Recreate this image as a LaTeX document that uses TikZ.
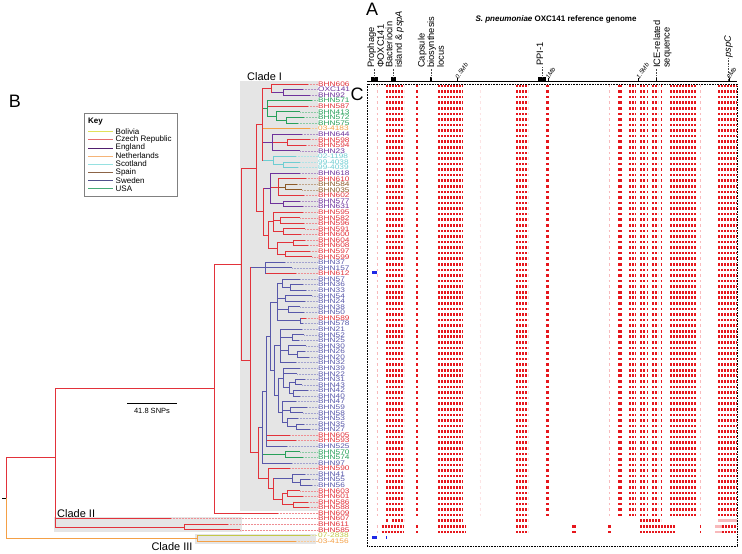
\documentclass[tikz,border=0pt]{standalone}
\usepackage{fontspec}
\setmainfont{Liberation Sans}
\usepackage{graphicx}
\definecolor{cR}{RGB}{226,50,58}
\definecolor{cE}{RGB}{110,50,155}
\definecolor{cS}{RGB}{88,88,170}
\definecolor{cU}{RGB}{40,160,90}
\definecolor{cN}{RGB}{244,160,70}
\definecolor{cSc}{RGB}{110,205,210}
\definecolor{cSp}{RGB}{140,90,40}
\definecolor{cB}{RGB}{195,200,70}
\definecolor{kB}{RGB}{225,225,90}
\definecolor{kC}{RGB}{232,110,110}
\definecolor{kE}{RGB}{80,30,110}
\definecolor{kN}{RGB}{245,180,120}
\definecolor{kSc}{RGB}{150,225,225}
\definecolor{kSp}{RGB}{140,100,70}
\definecolor{kS}{RGB}{80,80,140}
\definecolor{kU}{RGB}{70,170,120}
\definecolor{hmred}{RGB}{230,22,28}
\definecolor{hmblue}{RGB}{30,40,230}
\definecolor{boxgray}{RGB}{229,229,229}
\newcommand\VB[4]{\draw[br,#4] (#1,#2) -- (#1,#3);}
\newcommand\HB[4]{\draw[br,#4] (#1,#3) -- (#2,#3);}
\tikzset{
  br/.style={line width=0.9pt, line cap=rect},
  lead/.style={line width=0.5pt, dash pattern=on 0.5pt off 1pt},
  lab/.style={anchor=west, inner sep=0pt, font=\fontsize{8.3}{8}\selectfont},
  hm/.style={line width=2.6pt, draw=hmred, dash pattern=on 2.3pt off 0.7pt},
  hmsolid/.style={line width=2.6pt, draw=hmred},
  hmfaint/.style={line width=2.6pt, draw=hmred!30},
  hmvfaint/.style={line width=2.6pt, draw=hmred!12},
  gl/.style={rotate=90, anchor=west, align=left, inner sep=0pt, font=\fontsize{9.3}{9.6}\selectfont},
  tl/.style={rotate=55, anchor=south west, inner sep=0pt, font=\fontsize{6.2}{6.5}\selectfont\itshape},
  blk/.style={fill=black, inner sep=0pt, minimum height=4pt},
  gdot/.style={line width=0.5pt, dash pattern=on 0.6pt off 1pt, draw=black!70},
  clab/.style={inner sep=0pt, font=\fontsize{11}{12}\selectfont},
  plab/.style={inner sep=0pt, font=\fontsize{18}{18}\selectfont},
  keytxt/.style={anchor=west, inner sep=0pt, font=\fontsize{8}{8}\selectfont}
}
\begin{document}
\begin{tikzpicture}[x=1pt,y=-1pt]
\useasboundingbox (0,0) rectangle (742,554);
\fill[white] (0,0) rectangle (742,554);
% grey clade boxes
\fill[boxgray] (240,81) rectangle (318,511);
\fill[boxgray] (54,517) rectangle (242,532);
\fill[boxgray] (195,534) rectangle (316,544);
\node[clab, anchor=base west] (c1) at (247,80) {Clade I};
\node[clab, anchor=base west] (c2) at (57,517) {Clade II};
\node[clab] (c3) at (172,547) {Clade III};
% panel letters
\node[plab] (pA) at (372,9) {A};
\node[plab] (pB) at (15,101) {B};
\node[plab] (pC) at (357,94) {C};
% key
\draw[gray, line width=0.8pt] (84,113.3) rectangle (177.3,196.7);
\node[keytxt, font=\fontsize{8}{8}\selectfont\bfseries] (keyt) at (88,121.7) {Key};
\foreach \k/\nm/\cl in {0/Bolivia/kB, 1/Czech Republic/kC, 2/England/kE, 3/Netherlands/kN, 4/Scotland/kSc, 5/Spain/kSp, 6/Sweden/kS, 7/USA/kU}{
  \draw[line width=0.8pt, \cl] (88,{131.7+8.1*\k}) -- (113,{131.7+8.1*\k});
  \node[keytxt] (key\k) at (115.5,{131.7+8.1*\k}) {\nm};
}
% scale bar
\coordinate (sb0) at (127,403);
\coordinate (sb1) at (177,403);
\draw[line width=0.8pt] (sb0) -- (sb1);
\node[inner sep=0pt, font=\fontsize{7.5}{8}\selectfont] (sbl) at (152,411) {41.8 SNPs};
% ---------- tree ----------
\begin{scope}[y=-5.573pt, yshift=-78.427pt]
\foreach \i/\nm/\cl/\xs/\xt in {
1/BHN606/cR/271/308, 2/OXC141/cE/283/303, 3/BHN92/cE/283/310, 4/BHN571/cU/267/312,
5/BHN587/cR/267/308, 6/BHN413/cU/276/300, 7/BHN572/cU/286/304, 8/BHN575/cU/286/298,
9/03-4183/cN/262/310, 10/BHN644/cE/272/302, 11/BHN598/cR/287/310, 12/BHN594/cR/287/306,
13/BHN23/cE/272/300, 14/02-1198/cSc/273/296, 15/99-4038/cSc/283/300, 16/99-4039/cSc/283/298,
17/BHN618/cE/270/300, 18/BHN610/cR/278/306, 19/BHN584/cSp/285/297, 20/BHN035/cSp/285/302,
21/BHN602/cR/278/304, 22/BHN577/cE/283/300, 23/BHN631/cE/283/303, 24/BHN595/cR/273/303,
25/BHN582/cR/280/300, 26/BHN596/cR/280/304, 27/BHN591/cR/283/305, 28/BHN600/cR/283/301,
29/BHN604/cR/293/305, 30/BHN608/cR/293/308, 31/BHN597/cR/285/310, 32/BHN599/cR/285/312,
33/BHN37/cS/265/285, 34/BHN157/cS/265/292, 35/BHN612/cR/265/296, 36/BHN57/cS/282/300,
37/BHN36/cS/290/303, 38/BHN33/cS/290/306, 39/BHN54/cS/285/312, 40/BHN24/cS/285/305,
41/BHN38/cS/288/300, 42/BHN50/cS/288/304, 43/BHN589/cR/300/306, 44/BHN578/cS/300/303,
45/BHN21/cS/280/302, 46/BHN52/cS/292/304, 47/BHN25/cS/292/299, 48/BHN30/cS/288/306,
49/BHN26/cS/297/305, 50/BHN20/cS/297/309, 51/BHN32/cS/280/296, 52/BHN39/cS/283/300,
53/BHN22/cS/283/297, 54/BHN31/cS/295/305, 55/BHN43/cS/295/302, 56/BHN42/cS/293/308,
57/BHN40/cS/293/300, 58/BHN47/cS/282/296, 59/BHN59/cS/290/307, 60/BHN58/cS/290/303,
61/BHN53/cS/287/298, 62/BHN35/cS/296/304, 63/BHN27/cS/296/310, 64/BHN605/cR/266/290,
65/BHN593/cR/266/296, 66/BHN525/cS/266/287, 67/BHN570/cU/285/300, 68/BHN574/cU/285/303,
69/BHN97/cS/262/292, 70/BHN590/cR/268/290, 71/BHN41/cS/292/305, 72/BHN55/cS/300/310,
73/BHN56/cS/300/312, 74/BHN603/cR/287/300, 75/BHN601/cR/287/303, 76/BHN586/cR/293/308,
77/BHN588/cR/293/309, 78/BHN609/cR/214/278, 79/BHN607/cR/55/171, 80/BHN611/cR/184/228,
81/BHN585/cR/184/240, 82/07-2838/cB/197/310, 83/03-4156/cN/197/296}{
  \node[lab, text=\cl] (L\i) at (318,\i) {\scalebox{1}[0.8]{\nm}};
  \draw[lead, \cl!55] (\xt,\i) -- (L\i.west);
  \draw[br, \cl] (\xs,\i) -- (\xt,\i);
}
% T1
\VB{283}{2}{3}{cE} \HB{271}{283}{2.5}{cE}
\VB{271}{1}{2.5}{cR} \HB{262}{271}{1.75}{cR}
\VB{286}{7}{8}{cU} \HB{276}{286}{7.5}{cU}
\VB{276}{6}{7.5}{cU} \HB{267}{276}{6.75}{cU}
\VB{267}{4}{6.75}{cU} \HB{262}{267}{5.375}{cU}
\VB{287}{11}{12}{cR} \HB{272}{287}{11.5}{cR}
\VB{272}{10}{13}{cE} \HB{262}{272}{11.5}{cE}
\VB{283}{15}{16}{cSc} \HB{273}{283}{15.5}{cSc}
\VB{273}{14}{15.5}{cSc} \HB{262}{273}{14.75}{cSc}
\VB{262}{1.75}{14.75}{cR} \HB{256}{262}{8.25}{cR}
% T2
\VB{285}{19}{20}{cSp} \HB{278}{285}{19.5}{cSp}
\VB{278}{18}{21}{cR} \HB{270}{278}{19.5}{cR}
\VB{283}{22}{23}{cE} \HB{270}{283}{22.5}{cE}
\VB{270}{17}{22.5}{cE} \HB{263}{270}{19.75}{cE}
\VB{280}{25}{26}{cR} \HB{273}{280}{25.5}{cR}
\VB{283}{27}{28}{cR} \HB{273}{283}{27.5}{cR}
\VB{273}{24}{27.5}{cR} \HB{268}{273}{25.75}{cR}
\VB{293}{29}{30}{cR} \HB{277}{293}{29.5}{cR}
\VB{285}{31}{32}{cR} \HB{277}{285}{31.5}{cR}
\VB{277}{29.5}{31.5}{cR} \HB{268}{277}{30.5}{cR}
\VB{268}{25.75}{30.5}{cR} \HB{263}{268}{28.125}{cR}
\VB{263}{19.75}{28.125}{cR} \HB{256}{263}{23.94}{cR}
\VB{256}{8.25}{23.94}{cR} \HB{241}{256}{16.09}{cR}
\VB{265}{33}{35}{cS} \HB{250}{265}{34}{cS}
% G2
\VB{290}{37}{38}{cS} \HB{282}{290}{37.5}{cS}
\VB{282}{36}{37.5}{cS} \HB{277}{282}{36.75}{cS}
\VB{285}{39}{40}{cS} \HB{277}{285}{39.5}{cS}
\VB{288}{41}{42}{cS} \HB{277}{288}{41.5}{cS}
\VB{300}{43}{44}{cS} \HB{277}{300}{43.5}{cS}
\VB{277}{36.75}{43.5}{cS} \HB{270}{277}{40.125}{cS}
\VB{292}{46}{47}{cS} \HB{280}{292}{46.5}{cS}
\VB{297}{49}{50}{cS} \HB{288}{297}{49.5}{cS}
\VB{288}{48}{49.5}{cS} \HB{280}{288}{48.75}{cS}
\VB{280}{45}{51}{cS} \HB{274}{280}{48}{cS}
\VB{295}{54}{55}{cS} \HB{289}{295}{54.5}{cS}
\VB{293}{56}{57}{cS} \HB{289}{293}{56.5}{cS}
\VB{289}{54.5}{56.5}{cS} \HB{283}{289}{55.5}{cS}
\VB{283}{52}{55.5}{cS} \HB{278}{283}{53.75}{cS}
\VB{290}{59}{60}{cS} \HB{282}{290}{59.5}{cS}
\VB{296}{62}{63}{cS} \HB{287}{296}{62.5}{cS}
\VB{287}{61}{62.5}{cS} \HB{282}{287}{61.75}{cS}
\VB{282}{58}{61.75}{cS} \HB{278}{282}{59.875}{cS}
\VB{278}{53.75}{59.875}{cS} \HB{274}{278}{56.81}{cS}
\VB{274}{48}{56.81}{cS} \HB{270}{274}{52.41}{cS}
\VB{270}{40.125}{52.41}{cS} \HB{266}{270}{46.27}{cS}
\VB{266}{46.27}{66}{cS} \HB{262}{266}{56.13}{cS}
\VB{285}{67}{68}{cU} \HB{262}{285}{67.5}{cU}
\VB{262}{56.13}{69}{cS} \HB{258}{262}{62.57}{cS}
\VB{300}{72}{73}{cS} \HB{292}{300}{72.5}{cS}
\VB{292}{71}{72.5}{cS} \HB{273}{292}{71.75}{cS}
\VB{287}{74}{75}{cR} \HB{282}{287}{74.5}{cR}
\VB{293}{76}{77}{cR} \HB{282}{293}{76.5}{cR}
\VB{282}{74.5}{76.5}{cR} \HB{273}{282}{75.5}{cR}
\VB{273}{71.75}{75.5}{cR} \HB{268}{273}{73.625}{cR}
\VB{268}{70}{73.625}{cR} \HB{258}{268}{71.81}{cR}
\VB{258}{62.57}{71.81}{cR} \HB{250}{258}{67.19}{cR}
\VB{250}{34}{67.19}{cR} \HB{241}{250}{50.6}{cR}
\VB{241}{16.09}{50.6}{cR} \HB{214}{241}{33.34}{cR}
\VB{214}{33.34}{78}{cR} \HB{55}{214}{55.67}{cR}
\VB{184}{80}{81}{cR} \HB{55}{184}{80.5}{cR}
\VB{55}{55.67}{80.5}{cR} \HB{6.3}{55}{68.08}{cR}
\VB{197}{82}{83}{cN} \HB{6.3}{197}{82.5}{cN}
\VB{6.3}{68.08}{75.29}{cR} \VB{6.3}{75.29}{82.5}{cN}
\draw[line width=0.8pt] (2,75.29) -- (6.3,75.29);
\end{scope}
% ---------- genome axis ----------
\coordinate (ax0) at (367,81);
\coordinate (ax1) at (737,81);
\draw[line width=0.8pt] (ax0) -- (ax1);
\node[blk, minimum width=6.5pt] (bp) at (374.5,79.3) {};
\node[blk, minimum width=5pt] (bb) at (393.5,79.3) {};
\node[blk, minimum width=1.6pt] (bc) at (431.2,79.3) {};
\node[blk, minimum width=8.5pt] (bppi) at (541.8,79.3) {};
\node[blk, minimum width=1.4pt] (bice) at (656.2,79.3) {};
\coordinate (bpsp) at (728.5,81);
\node[gl] (lp) at (375.7,68) {Prophage\\ΦOXC141};
\node[gl] (lb) at (394.7,68) {Bacteriocin\\island \& \textit{pspA}};
\node[gl] (lc) at (430.9,68) {Capsule\\biosynthesis\\locus};
\node[gl] (lppi) at (540,66) {PPI-1};
\node[gl] (lice) at (662.5,68) {ICE-related\\sequence};
\node[gl] (lpsp) at (728.5,58) {\textit{pspC}};
\draw[gdot] (bp.north) -- (bp.north |- lp.west);
\draw[gdot] (bb.north) -- (bb.north |- lb.west);
\draw[gdot] (bc.north) -- (bc.north |- lc.west);
\draw[gdot] (bppi.north) -- (bppi.north |- lppi.west);
\draw[gdot] (bice.north) -- (bice.north |- lice.west);
\draw[gdot] (bpsp) -- (bpsp |- lpsp.west);
\foreach \tx/\tn/\tt in {457.5/t1/0.5Mb, 548/t2/1Mb, 638.5/t3/1.5Mb, 729/t4/2Mb}{
  \draw[line width=0.6pt] (\tx,81) -- (\tx,78);
  \node[tl] (\tn) at (\tx+1,79.5) {\tt};
}
\node[inner sep=0pt, font=\fontsize{8}{9}\selectfont\bfseries] (ttl) at (556,19) {\textit{S. pneumoniae} OXC141 reference genome};
% ---------- heatmap ----------
\draw[line width=0.6pt, dash pattern=on 0.8pt off 0.8pt] (367,84) rectangle (737,546);
\begin{scope}[y=-5.573pt, yshift=-80.427pt]
\foreach \a/\b/\s in {376.5/377.7/hmfaint, 386/404/hm, 416.3/417.8/hmsolid, 438/463/hm, 479.5/480.5/hmvfaint,
  516/528/hm, 546/548.5/hmsolid, 608.6/609.6/hmfaint, 618/622/hmsolid, 629/636/hm, 640/645/hm,
  647/648/hmsolid, 652/658/hm, 660.5/661.5/hmsolid, 670/696/hm, 700/701/hmfaint, 718/737/hm}{
  \draw[\s] \foreach \r in {1,...,78}{(\a,\r) -- (\b,\r)};
}
% clade II rows
\foreach \a/\b/\s in {386/388/hmsolid, 392/404/hm, 438/463/hm, 516/528/hm, 640/661/hm, 718/737/hmfaint}{
  \draw[\s] (\a,79) -- (\b,79);
}
\foreach \a/\b/\s in {376.5/377.7/hmfaint, 381.7/404/hm, 416.3/417.8/hmsolid, 438/466/hm, 516/528/hm,
  572/576/hmsolid, 608/611/hmsolid, 640/675/hm, 700/701/hmsolid, 715/722/hmfaint, 722/737/hm}{
  \draw[\s] (\a,80) -- (\b,80) (\a,81) -- (\b,81);
}
% blue marks
\draw[line width=2.6pt, hmblue] (372,34.46) -- (377,34.46);
\draw[line width=2.6pt, hmblue] (372,82) -- (377,82);
\draw[line width=2.6pt, hmblue] (386,82) -- (387,82);
\end{scope}
\end{tikzpicture}
\end{document}
